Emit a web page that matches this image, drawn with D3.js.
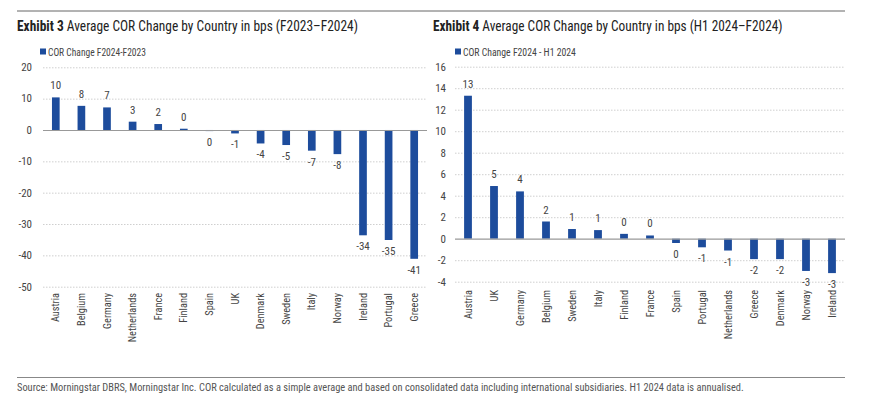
<!DOCTYPE html>
<html>
<head>
<meta charset="utf-8">
<script src="https://cdn.jsdelivr.net/npm/d3@7"></script>
<style>
  html, body { margin: 0; padding: 0; background: #fff; }
  svg { display: block; }
  text { font-family: "Liberation Sans Narrow", "Arial Narrow", "Roboto Condensed", sans-serif; }
</style>
</head>
<body>
<svg id="chart" width="885" height="412"></svg>
<script>
// ---- Data ----
const leftCategories = ["Austria","Belgium","Germany","Netherlands","France","Finland","Spain","UK","Denmark","Sweden","Italy","Norway","Ireland","Portugal","Greece"];
const leftValues = [10.4, 7.7, 7.2, 2.65, 1.9, 0.4, -0.35, -1.1, -4.3, -4.8, -6.6, -7.7, -33.6, -35.1, -41.1];
const leftTicks = [20, 10, 0, -10, -20, -30, -40, -50];

const rightCategories = ["Austria","UK","Germany","Belgium","Sweden","Italy","Finland","France","Spain","Portugal","Netherlands","Greece","Denmark","Norway","Ireland"];
const rightValues = [13.3, 4.9, 4.4, 1.6, 0.9, 0.8, 0.45, 0.3, -0.4, -0.8, -1.1, -1.9, -1.9, -3.0, -3.2];
const rightTicks = [16, 14, 12, 10, 8, 6, 4, 2, 0, -2, -4];

const leftTitleBold = "Exhibit 3";
const leftTitleRest = " Average COR Change by Country in bps (F2023\u2013F2024)";
const rightTitleBold = "Exhibit 4";
const rightTitleRest = " Average COR Change by Country in bps (H1 2024\u2013F2024)";
const leftLegend = "COR Change F2024-F2023";
const rightLegend = "COR Change F2024 - H1 2024";
const sourceText = "Source: Morningstar DBRS, Morningstar Inc. COR calculated as a simple average and based on consolidated data including international subsidiaries. H1 2024 data is annualised.";

const barColor = "#1d4c9c";
const svg = d3.select("#chart");

// fit a text element horizontally to a target width (condensed look)
function fitWidth(sel, x, y, target) {
  const w = sel.node().getComputedTextLength();
  const s = target / w;
  sel.attr("x", 0).attr("y", 0).attr("transform", `translate(${x},${y}) scale(${s},1)`);
}

// top and bottom rules
svg.append("line").attr("x1", 17).attr("x2", 845).attr("y1", 11).attr("y2", 11)
  .attr("stroke", "#666").attr("stroke-width", 1);
svg.append("line").attr("x1", 17).attr("x2", 845).attr("y1", 377.5).attr("y2", 377.5)
  .attr("stroke", "#888").attr("stroke-width", 1);
const src = svg.append("text").attr("font-size", 10.5).attr("fill", "#555").text(sourceText);
fitWidth(src, 17, 390.5, 728);

function fmt(v) {
  const r = Math.round(v);
  return r === 0 ? "0" : String(r);
}

function drawPanel(o) {
  const g = svg.append("g");
  // title
  const t = g.append("text").attr("font-size", 15.5).attr("fill", "#222");
  t.append("tspan").attr("font-weight", "bold").text(o.titleBold);
  t.append("tspan").text(o.titleRest);
  fitWidth(t, o.titleX, 31, o.titleW);

  // legend
  g.append("rect").attr("x", o.legendX).attr("y", 48.5).attr("width", 6).attr("height", 6).attr("fill", barColor);
  const lt = g.append("text").attr("font-size", 10.8).attr("fill", "#444").text(o.legend);
  fitWidth(lt, o.legendX + 8, 55.5, o.legendW);

  const x = d3.scaleBand().domain(o.categories).range(o.xRange).paddingInner(0.7).paddingOuter(0.35);
  const y = d3.scaleLinear().domain(o.yDomain).range(o.yRange);

  // gridlines
  g.append("g").selectAll("line").data(o.ticks.filter(d => d !== 0)).join("line")
    .attr("x1", o.xRange[0]).attr("x2", o.xRange[1])
    .attr("y1", d => y(d) + 0.5).attr("y2", d => y(d) + 0.5)
    .attr("stroke", "#cfcfcf").attr("stroke-width", 1).attr("stroke-dasharray", "1.5,1.5");

  // y tick labels
  g.append("g").selectAll("text").data(o.ticks).join("text")
    .attr("x", o.tickX).attr("y", d => y(d)).attr("dy", "0.35em")
    .attr("text-anchor", "end").attr("font-size", 11).attr("fill", "#444")
    .text(d => String(d));

  // bars
  g.append("g").selectAll("rect").data(o.values).join("rect")
    .attr("x", (d, i) => x(o.categories[i]))
    .attr("width", x.bandwidth())
    .attr("y", d => y(Math.max(0, d)))
    .attr("height", d => Math.abs(y(d) - y(0)))
    .attr("fill", barColor);

  // zero line
  g.append("line").attr("x1", o.xRange[0]).attr("x2", o.xRange[1])
    .attr("y1", y(0) + 0.5).attr("y2", y(0) + 0.5).attr("stroke", "#999").attr("stroke-width", 1.2);

  // value labels
  g.append("g").selectAll("text").data(o.values).join("text")
    .attr("x", (d, i) => x(o.categories[i]) + x.bandwidth() / 2)
    .attr("y", d => d >= 0 ? y(d) - 8 : y(d) + 15)
    .attr("text-anchor", "middle").attr("font-size", 11).attr("fill", "#444")
    .text(d => fmt(d));

  // category labels
  g.append("g").selectAll("text").data(o.categories).join("text")
    .attr("transform", d => `translate(${x(d) + x.bandwidth() / 2},${o.catY}) rotate(-90)`)
    .attr("dy", "0.35em").attr("text-anchor", "end").attr("font-size", 10.3).attr("fill", "#444")
    .text(d => d);
}

drawPanel({
  titleX: 17, titleW: 341, titleBold: leftTitleBold, titleRest: leftTitleRest,
  legendX: 40, legendW: 98, legend: leftLegend,
  categories: leftCategories, values: leftValues, ticks: leftTicks,
  xRange: [43, 427], yDomain: [-50, 20], yRange: [286.7, 67.3], tickX: 32, catY: 293
});
drawPanel({
  titleX: 433, titleW: 350, titleBold: rightTitleBold, titleRest: rightTitleRest,
  legendX: 455, legendW: 113, legend: rightLegend,
  categories: rightCategories, values: rightValues, ticks: rightTicks,
  xRange: [455, 845], yDomain: [-4, 16], yRange: [281.7, 66.7], tickX: 446, catY: 290
});
</script>
</body>
</html>
